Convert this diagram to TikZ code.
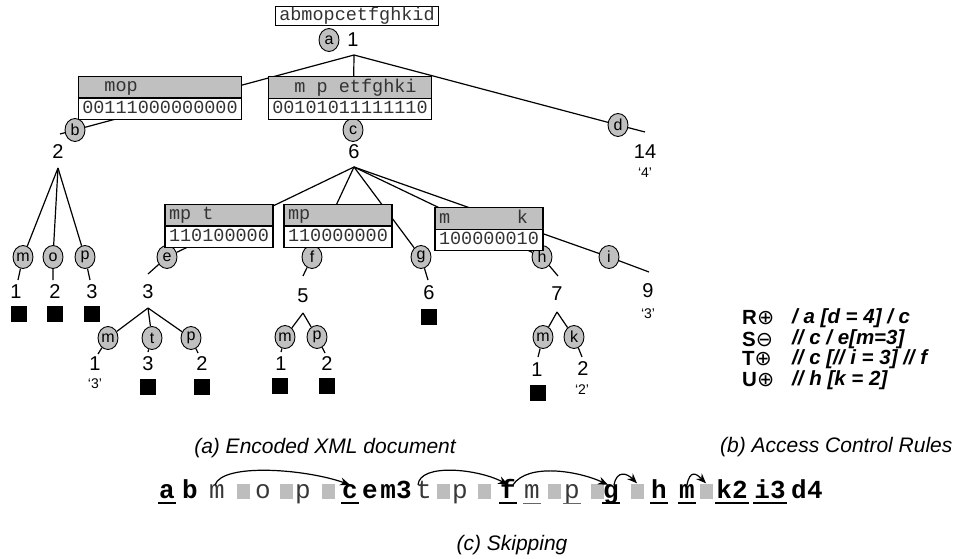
\documentclass[tikz,border=0pt]{standalone}
\usepackage{fontspec}
\setmainfont{Liberation Sans}
\setmonofont{Liberation Mono}
\newfontfamily\symfont{DejaVu Sans}
\usetikzlibrary{shapes.geometric,shapes.multipart,arrows.meta}
\definecolor{tagfill}{HTML}{C0C0C0}
\definecolor{skipfill}{HTML}{BDBDBD}
\newcommand{\gap}{\phantom{0}}
\newcommand{\bstrut}{\rule[-4pt]{0pt}{17pt}}
\newcommand{\boxfont}{\ttfamily\fontsize{18.5}{20}\selectfont}

\tikzset{
  tag/.style={ellipse,draw,fill=tagfill,line width=0.9pt,minimum width=20pt,minimum height=23pt,inner sep=0pt,font=\fontsize{16}{16}\selectfont},
  num/.style={inner sep=0pt,text height=14pt,text depth=0pt,font=\fontsize{20}{20}\selectfont},
  val/.style={inner sep=0pt,font=\fontsize{14}{14}\selectfont},
  leaf/.style={fill=black,minimum size=16pt,inner sep=0pt},
  link/.style={line width=1.2pt},
  bitbox/.style={rectangle split,rectangle split parts=2,draw,line width=1.4pt,
    rectangle split part fill={tagfill,white},rectangle split part align={left,left},
    inner xsep=4pt,inner ysep=1.5pt,font=\boxfont,text=black!80},
  wordbox/.style={draw,line width=1.4pt,inner xsep=4pt,inner ysep=1pt,font=\boxfont,text=black!80},
  tok/.style={inner sep=0pt,inner xsep=1pt,text height=13pt,text depth=0pt,font=\ttfamily\fontsize{26}{26}\selectfont},
  hv/.style={tok,font=\ttfamily\bfseries\fontsize{26}{26}\selectfont},
  lt/.style={tok,text=black!78},
  sqr/.style={fill=skipfill,minimum width=13pt,minimum height=15pt,inner sep=0pt},
  ulb/.style={line width=2pt},
  ult/.style={line width=0.8pt,black!60},
  skiparc/.style={line width=1.2pt,-{Stealth[length=10pt,width=8pt]}},
  rname/.style={anchor=west,inner sep=0pt,font=\bfseries\fontsize{20.5}{20}\selectfont},
  rpath/.style={anchor=west,inner sep=0pt,font=\bfseries\itshape\fontsize{20.5}{20}\selectfont},
  captext/.style={inner sep=0pt,font=\itshape\fontsize{21}{21}\selectfont}
}

\begin{document}
\begin{tikzpicture}[x=1pt,y=-1pt]
\useasboundingbox (0,0) rectangle (956,559);

% tree
\node[tag] (a) at (329,40) {a};
\node[num] (n1) at (353,40) {1};
\coordinate (t1) at (354,55);

\node[tag] (b) at (75,130) {b};
\coordinate (xb) at (60,134);
\node[num] (nb) at (58,152) {2};
\coordinate (tb) at (58,168);

\node[tag] (c) at (353,130) {c};
\coordinate (xc) at (353,141);
\node[num] (nc) at (354,151) {6};
\coordinate (tc) at (354,167);

\node[tag] (d) at (618,125) {d};
\coordinate (xd) at (645,132);
\node[num] (nd) at (645,152) {14};
\node[val] (qd) at (645,173) {`4'};

\node[tag] (bm) at (23,257) {m};
\coordinate (xbm) at (18,280);
\node[num] (nbm) at (16,291) {1};
\node[tag] (bo) at (53,257) {o};
\coordinate (xbo) at (53,280);
\node[num] (nbo) at (55,291) {2};
\node[tag] (bp) at (85,257) {p};
\coordinate (xbp) at (90,280);
\node[num] (nbp) at (92,291) {3};

\node[tag] (e) at (167,257) {e};
\coordinate (xe) at (148,274);
\node[num] (ne) at (148,291) {3};
\coordinate (te) at (148,308);
\node[tag] (f) at (312,257) {f};
\coordinate (xf) at (303,276);
\node[num] (nf) at (303,295) {5};
\coordinate (tf) at (303,313);
\node[tag] (g) at (421,257) {g};
\coordinate (xg) at (428,280);
\node[num] (ng) at (429,292) {6};
\node[tag] (h) at (542,257) {h};
\coordinate (xh) at (558,276);
\node[num] (nh) at (557,293) {7};
\coordinate (th) at (557,312);
\node[tag] (i) at (609,257) {i};
\coordinate (xi) at (649,272);
\node[num] (ni) at (648,290) {9};
\node[val] (qi) at (648,314) {`3'};

\node[tag] (em) at (108,338) {m};
\coordinate (xem) at (98,354);
\node[num] (nem) at (95,363) {1};
\node[val] (qem) at (95,384) {`3'};
\node[tag] (et) at (152,338) {t};
\coordinate (xet) at (148,352);
\node[num] (net) at (148,363) {3};
\node[tag] (ep) at (191,338) {p};
\coordinate (xep) at (198,353);
\node[num] (nep) at (202,363) {2};

\node[tag] (fm) at (285,337) {m};
\coordinate (xfm) at (281,352);
\node[num] (nfm) at (281,363) {1};
\node[tag] (fp) at (317,337) {p};
\coordinate (xfp) at (325,353);
\node[num] (nfp) at (327,363) {2};

\node[tag] (hm) at (543,337) {m};
\coordinate (xhm) at (538,357);
\node[num] (nhm) at (537,369) {1};
\node[tag] (hk) at (574,337) {k};
\coordinate (xhk) at (582,357);
\node[num] (nhk) at (583,368) {2};
\node[val] (qhk) at (582,390) {`2'};

\foreach \u/\v in {1/b,1/c,1/d,b/bm,b/bo,b/bp,c/e,c/f,c/g,c/h,c/i,e/em,e/et,e/ep,f/fm,f/fp,h/hm,h/hk}
  \draw[link] (t\u) -- (\v) -- (x\v);

\foreach \v/\x/\y in {bm/19/314,bo/55/314,bp/92/314,g/429/317,et/148/387,ep/202/387,fm/280/386,fp/327/386,hm/538/393}
  \node[leaf] (l\v) at (\x,\y) {};

% encoded boxes
\node[wordbox] (word) at (357,16) {\bstrut abmopcetfghkid};
\node[bitbox] (kb) at (160,98) {\bstrut\gap\gap mop\nodepart{two}\bstrut 00111000000000};
\node[bitbox] (kc) at (350,98) {\bstrut\gap\gap m\gap p\gap etfghki\nodepart{two}\bstrut 00101011111110};
\node[bitbox] (ke) at (219,226) {\bstrut mp\gap t\nodepart{two}\bstrut 110100000};
\node[bitbox] (kf) at (338,226) {\bstrut mp\nodepart{two}\bstrut 110000000};
\node[bitbox] (kh) at (489,229) {\bstrut m\gap\gap\gap\gap\gap\gap k\nodepart{two}\bstrut 100000010};

% rules
\node[rname] (r1) at (742,318) {R{\mdseries\symfont ⊕}};
\node[rpath] (p1) at (792,318) {/ a [d = 4] / c};
\node[rname] (r2) at (742,339) {S{\mdseries\symfont ⊖}};
\node[rpath] (p2) at (792,339) {// c / e[m=3]};
\node[rname] (r3) at (742,359) {T{\mdseries\symfont ⊕}};
\node[rpath] (p3) at (792,359) {// c [// i = 3] // f};
\node[rname] (r4) at (742,380) {U{\mdseries\symfont ⊕}};
\node[rpath] (p4) at (792,380) {// h [k = 2]};

% skipping
\foreach \x/\t/\s [count=\k] in {167/a/hv,190/b/hv,217/m/lt,263/o/lt,303/p/lt,350/c/hv,370/e/hv,396/m3/hv,
  424/t/lt,460/p/lt,508/f/hv,532/m/lt,572/p/lt,611/g/hv,659/h/hv,687/m/hv,732/k2/hv,770/i3/hv,799/d/hv,815/4/hv}
  \node[\s,anchor=base] (s\k) at (\x,498) {\t};
\foreach \x [count=\k] in {243,286,328,443,484,554,597,637,706}
  \node[sqr] (q\k) at (\x,491) {};
\foreach \k in {1,6,11,14,15,16,17,18}
  \draw[ulb] ([yshift=-5pt]s\k.base west) -- ([yshift=-5pt]s\k.base east);
\foreach \k in {12,13}
  \draw[ult] ([yshift=-5pt]s\k.base west) -- ([yshift=-5pt]s\k.base east);
\draw[skiparc] ([xshift=-2pt]s3.north) .. controls +(8,-22) and +(-45,-16) .. (s6.north);
\draw[skiparc] ([xshift=-6pt]s9.north) .. controls +(2,-22) and +(-30,-16) .. (s11.north);
\draw[skiparc] ([xshift=5pt]s11.north) .. controls +(15,-22) and +(-30,-14) .. ([xshift=-3pt]s14.north);
\draw[skiparc] ([xshift=3pt]s14.north) .. controls +(3,-15) and +(-10,-10) .. (q8.north);
\draw[skiparc] (s16.north) .. controls +(3,-15) and +(-10,-10) .. (q9.north);

% captions
\node[captext] (capa) at (325,448) {(a) Encoded XML document};
\node[captext,anchor=west] (capb) at (720,447) {(b) Access Control Rules};
\node[captext] (capc) at (512,545) {(c) Skipping};
\end{tikzpicture}
\end{document}
